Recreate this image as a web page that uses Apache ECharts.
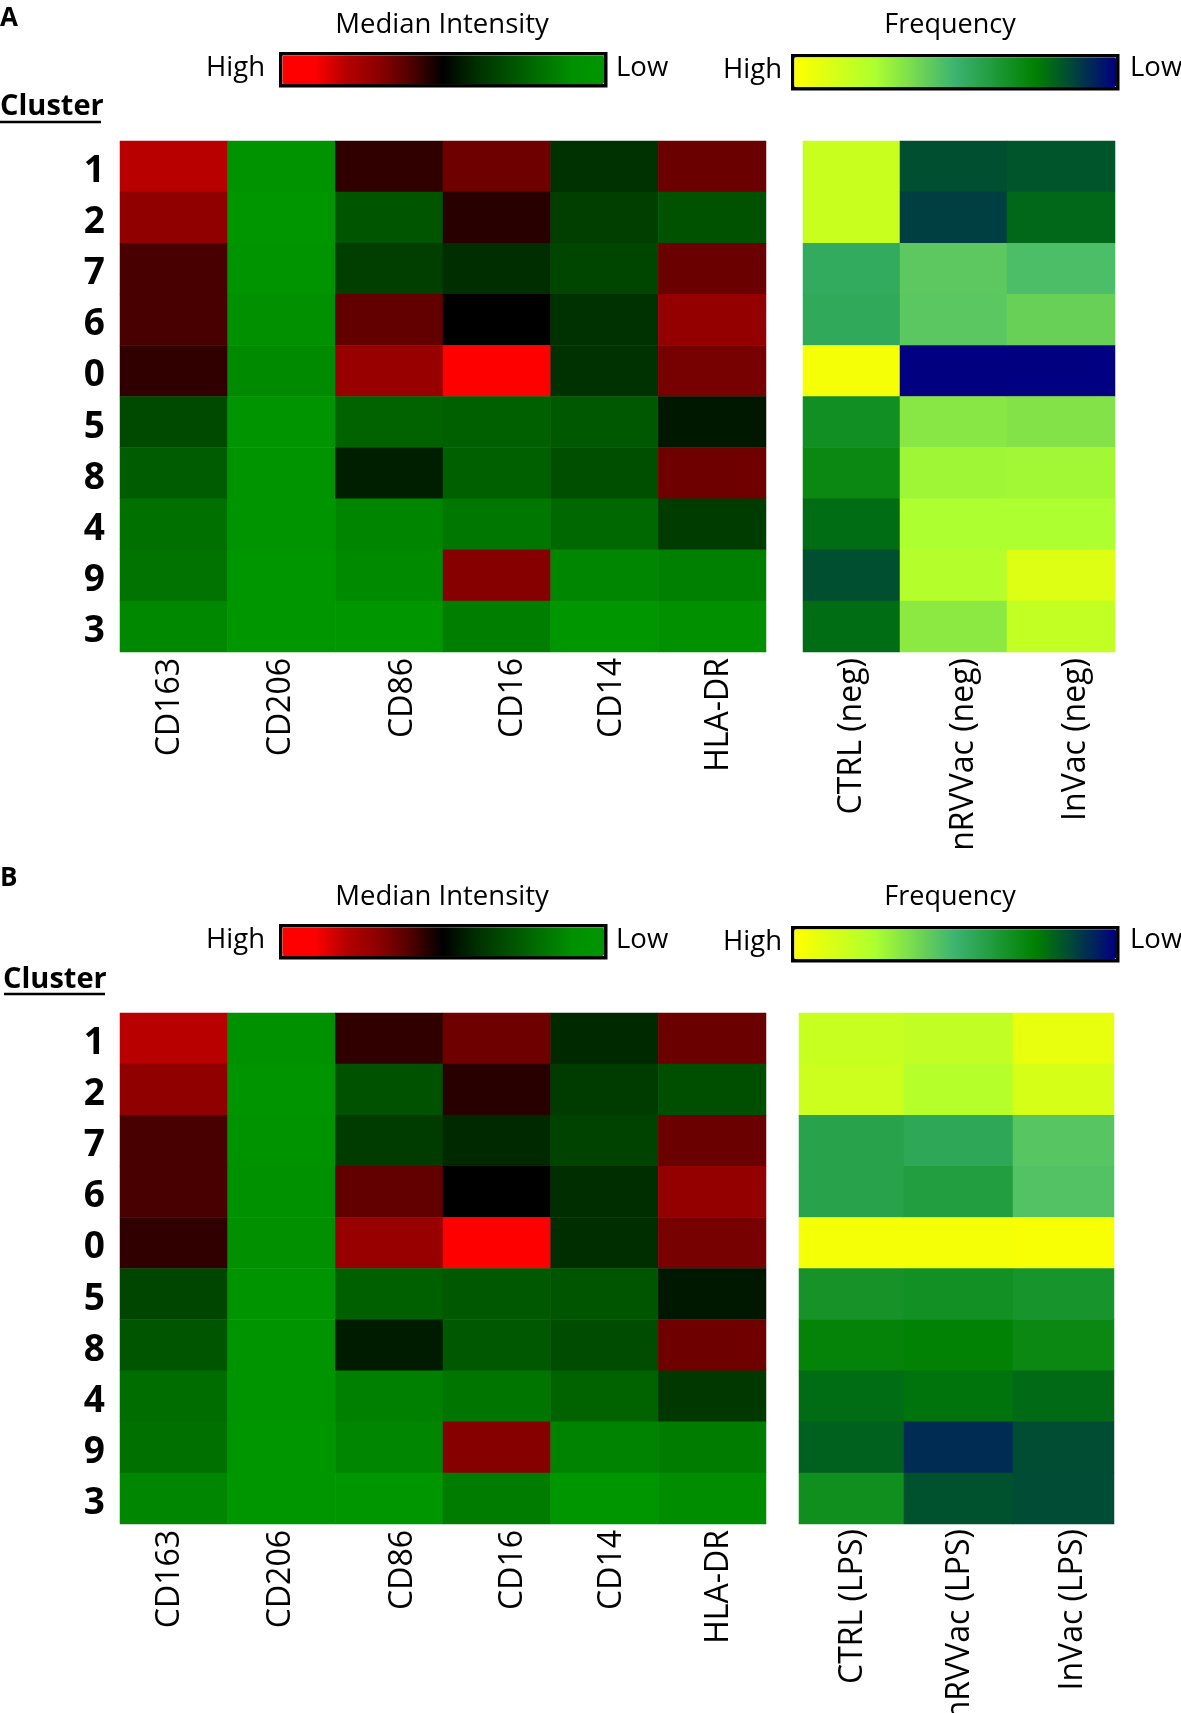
<!DOCTYPE html>
<html>
<head>
<meta charset="utf-8">
<script src="https://cdn.jsdelivr.net/npm/echarts@6/dist/echarts.min.js"></script>
<style>
  html, body { margin: 0; padding: 0; background: #fff; }
  #chart { width: 1181px; height: 1713px; }
</style>
</head>
<body>
<div id="chart"></div>
<script>
var clusters = ['1', '2', '7', '6', '0', '5', '8', '4', '9', '3'];
var markers = ['CD163', 'CD206', 'CD86', 'CD16', 'CD14', 'HLA-DR'];
var groupsNeg = ['CTRL (neg)', 'nRVVac (neg)', 'InVac (neg)'];
var groupsLps = ['CTRL (LPS)', 'nRVVac (LPS)', 'InVac (LPS)'];

// rows follow clusters, 100 = High, 0 = Low
var medianA = [
  [80.5, 5, 56, 65, 39, 64.5],
  [71, 0, 28, 55, 35, 29],
  [59, 3, 35, 40, 33, 64.5],
  [59, 10, 63, 50, 39, 72],
  [56, 12, 73, 92, 39, 66.5],
  [31.5, 3, 24, 25, 27, 45],
  [26, 3, 43.5, 25, 30, 65],
  [20, 1, 13.5, 17.5, 22.5, 36],
  [19, 0, 12, 69, 13, 15],
  [12.5, 0, 0, 15.5, 0, 10]
];
var medianB = [
  [80.5, 8, 56, 65, 41, 64.5],
  [71, 4, 29, 55, 36, 30],
  [59, 5, 36, 41, 34, 64.5],
  [59, 8, 63, 50, 40, 72],
  [56, 10, 73, 92, 40, 66.5],
  [33, 3, 25, 27, 28, 45],
  [28, 3, 44, 27, 31, 65],
  [21, 1, 15, 18, 24, 37],
  [20, 0, 13, 69, 14, 16],
  [13, 0, 0, 16, 0, 11]
];
var freqA = [
  [83.5, 15.4, 16.8],
  [83.5, 12.3, 20.3],
  [46, 57, 53.5],
  [45, 56.6, 59.7],
  [97, 0, 0],
  [32.5, 66.8, 65.5],
  [29, 72, 72.6],
  [21, 75, 75],
  [15.4, 77, 89.3],
  [21, 67.7, 81.4]
];
var freqB = [
  [83, 81, 93],
  [84.5, 77.5, 87.5],
  [41.7, 44, 56],
  [41.7, 39, 55],
  [97, 97, 98],
  [34, 33, 35],
  [26.7, 26, 29],
  [21, 22.7, 20.7],
  [19, 8.6, 15],
  [31.7, 16, 14.8]
];

// where the rotated names sit along each panel, in column units
var markerTicks = [0.46, 1.49, 2.63, 3.65, 4.57, 5.56];
var groupTicksA = [0.47, 1.55, 2.62];
var groupTicksB = [0.51, 1.53, 2.61];

var medianColors = ['#009600', '#009000', '#007000', '#004f00', '#002e00', '#000000',
  '#500000', '#8c0000', '#b40000', '#ff0000', '#ff0000'];
var freqColors = ['#000080', '#008000', '#3cb371', '#adff2f', '#ffff00'];

var font = '"Open Sans", "Noto Sans", sans-serif';
var grids = [], xAxes = [], yAxes = [], series = [];
var medianSeries = [], freqSeries = [];

function addHeat(x0, x1, top, bottom, names, colStart, values, bucket) {
  var idx = grids.length;
  grids.push({ left: x0, width: x1 - x0, top: top, height: bottom - top, outerBoundsMode: 'none' });
  xAxes.push({
    type: 'category', gridIndex: idx, data: names,
    axisLine: { show: false }, axisTick: { show: false }, axisLabel: { show: false },
    splitLine: { show: false }, splitArea: { show: false }
  });
  yAxes.push({
    type: 'category', gridIndex: idx, data: clusters, inverse: true,
    axisLine: { show: false }, axisTick: { show: false }, axisLabel: { show: false },
    splitLine: { show: false }
  });
  var cells = [];
  values.forEach(function (row, r) {
    names.forEach(function (n, c) {
      cells.push([c, r, row[colStart + c]]);
    });
  });
  bucket.push(series.length);
  series.push({
    type: 'heatmap', xAxisIndex: idx, yAxisIndex: idx, data: cells,
    progressive: 0, animation: false, emphasis: { disabled: true }
  });
}

// the cluster numbers sit a little below the row centres, so they get their own grid
function addRows(left, top, bottom) {
  var idx = grids.length;
  grids.push({ left: left, width: 10, top: top + 5, height: bottom - top, outerBoundsMode: 'none' });
  xAxes.push({ type: 'value', gridIndex: idx, show: false });
  yAxes.push({
    type: 'category', gridIndex: idx, data: clusters, inverse: true,
    axisLine: { show: false }, axisTick: { show: false }, splitLine: { show: false },
    axisLabel: { color: '#000', fontFamily: font, fontWeight: 'bold', fontSize: 37, margin: 15 }
  });
}

function addNames(x0, x1, bottom, names, ticks, margin) {
  var idx = grids.length;
  grids.push({ left: x0, width: x1 - x0, top: bottom - 10, height: 10, outerBoundsMode: 'none' });
  xAxes.push({
    type: 'value', gridIndex: idx, position: 'bottom', min: 0, max: names.length,
    axisLine: { show: false }, axisTick: { show: false }, splitLine: { show: false },
    axisLabel: {
      rotate: 90, margin: margin, color: '#000', fontFamily: font, fontSize: 32,
      customValues: ticks,
      formatter: function (v) { return names[ticks.indexOf(v)]; }
    }
  });
  yAxes.push({ type: 'value', gridIndex: idx, show: false });
}

function addColumns(edges, top, bottom, names, values, bucket) {
  names.forEach(function (n, c) {
    addHeat(edges[c], edges[c + 1], top, bottom, [n], c, values, bucket);
  });
}

// panel A
addHeat(120, 766, 141, 652, markers, 0, medianA, medianSeries);
addRows(120, 141, 652);
addNames(120, 766, 652, markers, markerTicks, 6);
addColumns([803, 900, 1007, 1115], 141, 652, groupsNeg, freqA, freqSeries);
addNames(803, 1115, 652, groupsNeg, groupTicksA, 6);

// panel B
addHeat(120, 766, 1013, 1524, markers, 0, medianB, medianSeries);
addRows(120, 1013, 1524);
addNames(120, 766, 1524, markers, markerTicks, 6);
addColumns([799, 904, 1013, 1114], 1013, 1524, groupsLps, freqB, freqSeries);
addNames(799, 1114, 1524, groupsLps, groupTicksB, 5);

function scale(left, top, thick, colors, bucket) {
  return {
    type: 'continuous', min: 0, max: 100, inverse: true, orient: 'horizontal',
    left: left, top: top, itemWidth: thick, itemHeight: 322,
    calculable: false, realtime: false, hoverLink: false, text: null, padding: 1.5,
    borderColor: '#000', borderWidth: 3.5,
    seriesIndex: bucket, inRange: { color: colors }
  };
}

function label(text, x, y, align, size, weight) {
  return {
    type: 'text', x: x, y: y, silent: true,
    style: {
      text: text, fill: '#000', align: align, verticalAlign: 'middle',
      font: (weight || 'normal') + ' ' + size + 'px ' + font
    }
  };
}

function underline(x0, x1, y) {
  return { type: 'line', silent: true, shape: { x1: x0, y1: y, x2: x1, y2: y }, style: { stroke: '#000', lineWidth: 2.5 } };
}

var graphics = [
  label('A', 0, 19, 'left', 26, 'bold'),
  label('Median Intensity', 442, 25, 'center', 27.5),
  label('Frequency', 950, 25, 'center', 27),
  label('High', 265, 68, 'right', 27.5),
  label('Low', 616, 68, 'left', 27.5),
  label('High', 782, 70, 'right', 27.5),
  label('Low', 1130, 68, 'left', 27.5),
  label('Cluster', 0, 107, 'left', 29, 'bold'),
  underline(0, 101, 122),

  label('B', 0, 879, 'left', 26, 'bold'),
  label('Median Intensity', 442, 897, 'center', 27.5),
  label('Frequency', 950, 897, 'center', 27),
  label('High', 265, 940, 'right', 27.5),
  label('Low', 616, 940, 'left', 27.5),
  label('High', 782, 942, 'right', 27.5),
  label('Low', 1130, 940, 'left', 27.5),
  label('Cluster', 3, 980, 'left', 29, 'bold'),
  underline(4, 105, 994)
];

var myChart = echarts.init(document.getElementById('chart'));
myChart.setOption({
  animation: false,
  backgroundColor: '#fff',
  grid: grids,
  xAxis: xAxes,
  yAxis: yAxes,
  visualMap: [
    scale(279, 52, 29, medianColors, medianSeries),
    scale(791, 54, 30, freqColors, freqSeries),
    scale(279, 924, 29, medianColors, medianSeries),
    scale(791, 926, 30, freqColors, freqSeries)
  ],
  graphic: graphics,
  series: series
});
</script>
</body>
</html>
